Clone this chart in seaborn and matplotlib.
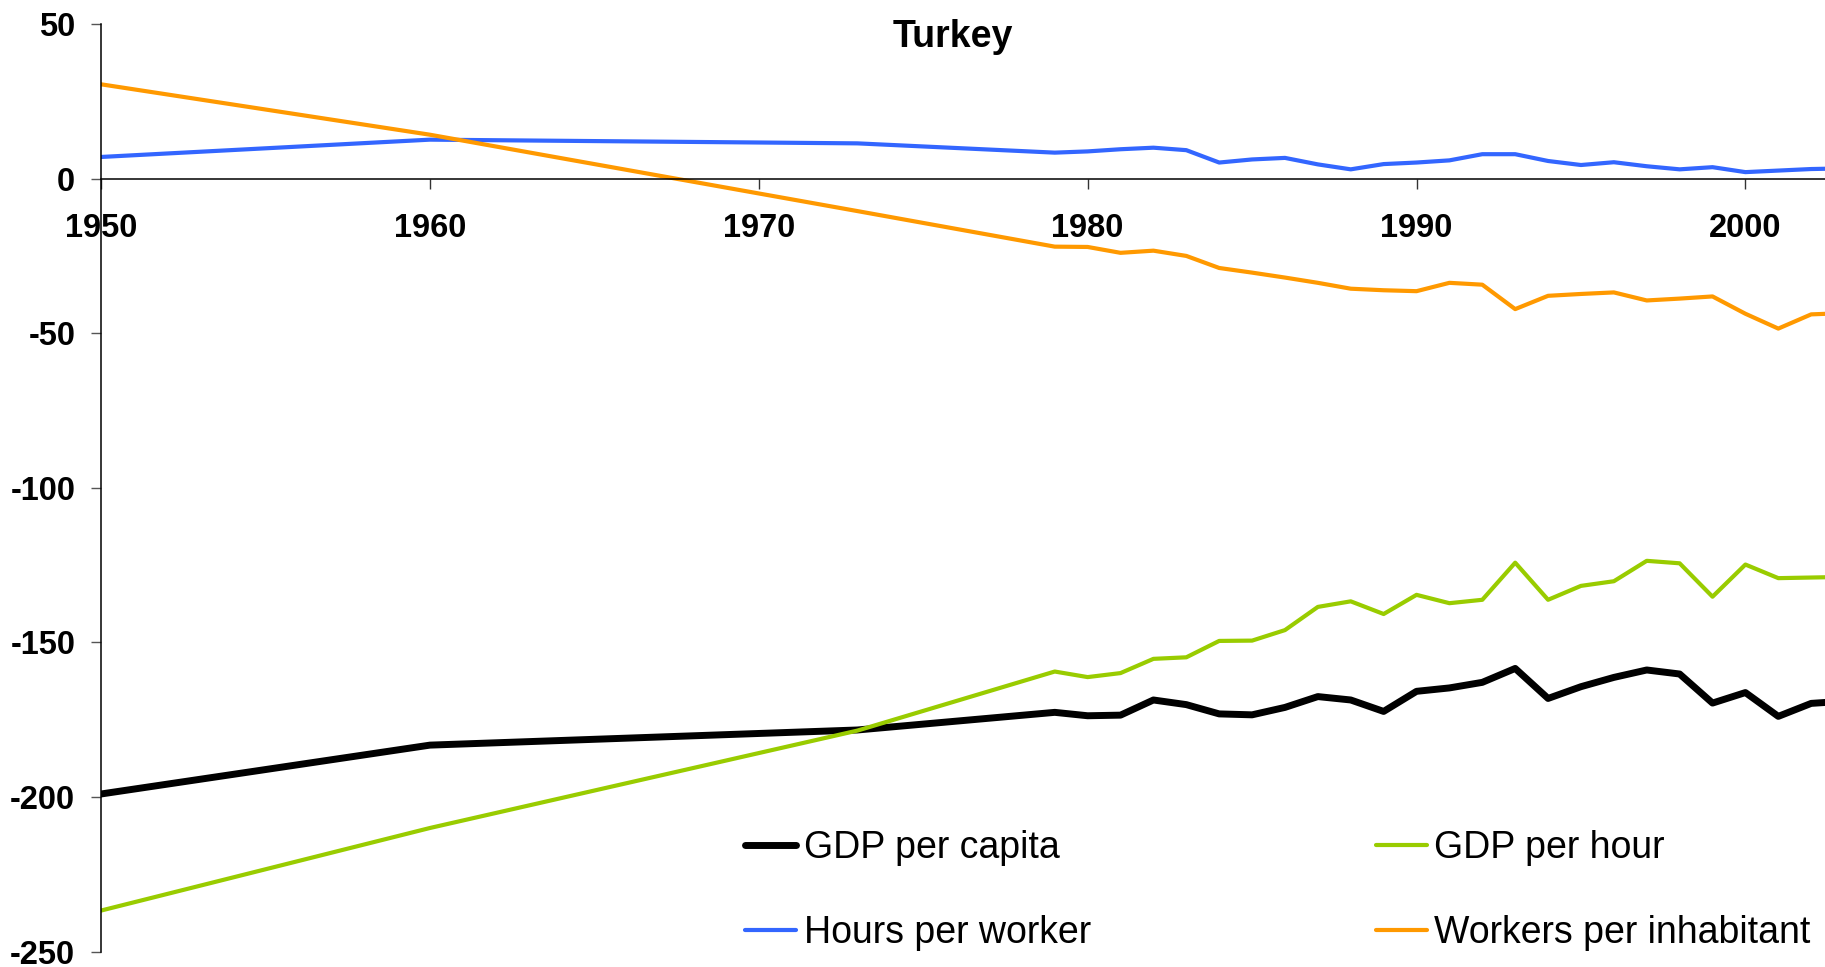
import pandas as pd
import matplotlib
matplotlib.use("Agg")
import matplotlib.pyplot as plt
import seaborn as sns

# Turkey: gap to benchmark, decomposed
years = [1950, 1960, 1973, 1979, 1980, 1981, 1982, 1983, 1984, 1985, 1986,
         1987, 1988, 1989, 1990, 1991, 1992, 1993, 1994, 1995, 1996, 1997,
         1998, 1999, 2000, 2001, 2002, 2003]

gdp_per_capita = [-199.0, -183.2, -178.3, -172.6, -173.7, -173.5, -168.6, -170.1,
                  -173.1, -173.4, -171.0, -167.5, -168.6, -172.3, -165.8, -164.7,
                  -162.9, -158.4, -168.1, -164.3, -161.3, -158.9, -160.2, -169.6,
                  -166.2, -173.9, -169.7, -169.0]

gdp_per_hour = [-236.7, -210.0, -178.5, -159.4, -161.2, -159.9, -155.3, -154.8,
                -149.5, -149.4, -146.0, -138.5, -136.7, -140.8, -134.6, -137.3,
                -136.2, -124.2, -136.2, -131.7, -130.2, -123.6, -124.4, -135.2,
                -124.8, -129.2, -129.0, -128.8]

hours_per_worker = [7.0, 12.6, 11.4, 8.4, 8.8, 9.5, 10.0, 9.2, 5.2, 6.2, 6.7,
                    4.6, 3.0, 4.7, 5.2, 5.9, 7.9, 7.9, 5.7, 4.4, 5.3, 4.0, 3.0,
                    3.7, 2.1, 2.6, 3.1, 3.3]

workers_per_inhabitant = [30.5, 14.2, -10.5, -22.0, -22.1, -24.0, -23.3, -25.0,
                          -28.9, -30.4, -32.0, -33.7, -35.6, -36.1, -36.4, -33.7,
                          -34.3, -42.2, -37.9, -37.3, -36.8, -39.4, -38.8, -38.1,
                          -43.7, -48.5, -43.9, -43.5]

series = [
    ("GDP per capita", gdp_per_capita, "#000000", 5.0),
    ("GDP per hour", gdp_per_hour, "#99CC00", 3.0),
    ("Hours per worker", hours_per_worker, "#3366FF", 3.0),
    ("Workers per inhabitant", workers_per_inhabitant, "#FF9900", 3.0),
]

sns.set_style("white")
plt.rcParams["font.family"] = ["Liberation Sans", "DejaVu Sans"]
plt.rcParams["text.color"] = "black"
plt.rcParams["axes.unicode_minus"] = False

fig = plt.figure(figsize=(18.25, 9.67), dpi=100)
ax = fig.add_axes([101 / 1825, 15.3 / 967, 1 - 101 / 1825, 927.7 / 967])

for name, vals, col, lw in series:
    sns.lineplot(x=years, y=vals, ax=ax, color=col, linewidth=lw, label=name)

ax.set_xlim(1950, 2002.42)
ax.set_ylim(-250, 50)
ax.set_yticks([50, 0, -50, -100, -150, -200, -250])
ax.set_xticks([1950, 1960, 1970, 1980, 1990, 2000])

ax.spines["top"].set_visible(False)
ax.spines["right"].set_visible(False)
ax.spines["bottom"].set_position(("data", 0))
for s in ("left", "bottom"):
    ax.spines[s].set_color("black")
    ax.spines[s].set_linewidth(1.1)

ax.tick_params(axis="y", direction="out", length=7.5, width=1, color="#555555",
               pad=11, labelsize=23.5, labelcolor="black", left=True)
ax.tick_params(axis="x", direction="out", length=7.5, width=1, color="#333333",
               pad=17, labelsize=23.5, labelcolor="black", bottom=True)
for lab in ax.get_xticklabels() + ax.get_yticklabels():
    lab.set_fontweight("bold")

fig.text(953 / 1825, 1 - 47 / 967, "Turkey", ha="center", va="baseline",
         fontsize=27, fontweight="bold", color="black")

handles, labels = ax.get_legend_handles_labels()
order = [0, 2, 1, 3]
leg = ax.legend([handles[i] for i in order], [labels[i] for i in order],
                ncol=2, frameon=False, fontsize=27,
                loc="upper left", bbox_to_anchor=(745 / 1825, 1 - 830 / 967),
                bbox_transform=fig.transFigure, borderpad=0, borderaxespad=0,
                handlelength=1.36, handletextpad=0.2, columnspacing=7.6,
                labelspacing=1.3)
for t in leg.get_texts():
    t.set_color("black")

fig.savefig("out.png", dpi=100)
